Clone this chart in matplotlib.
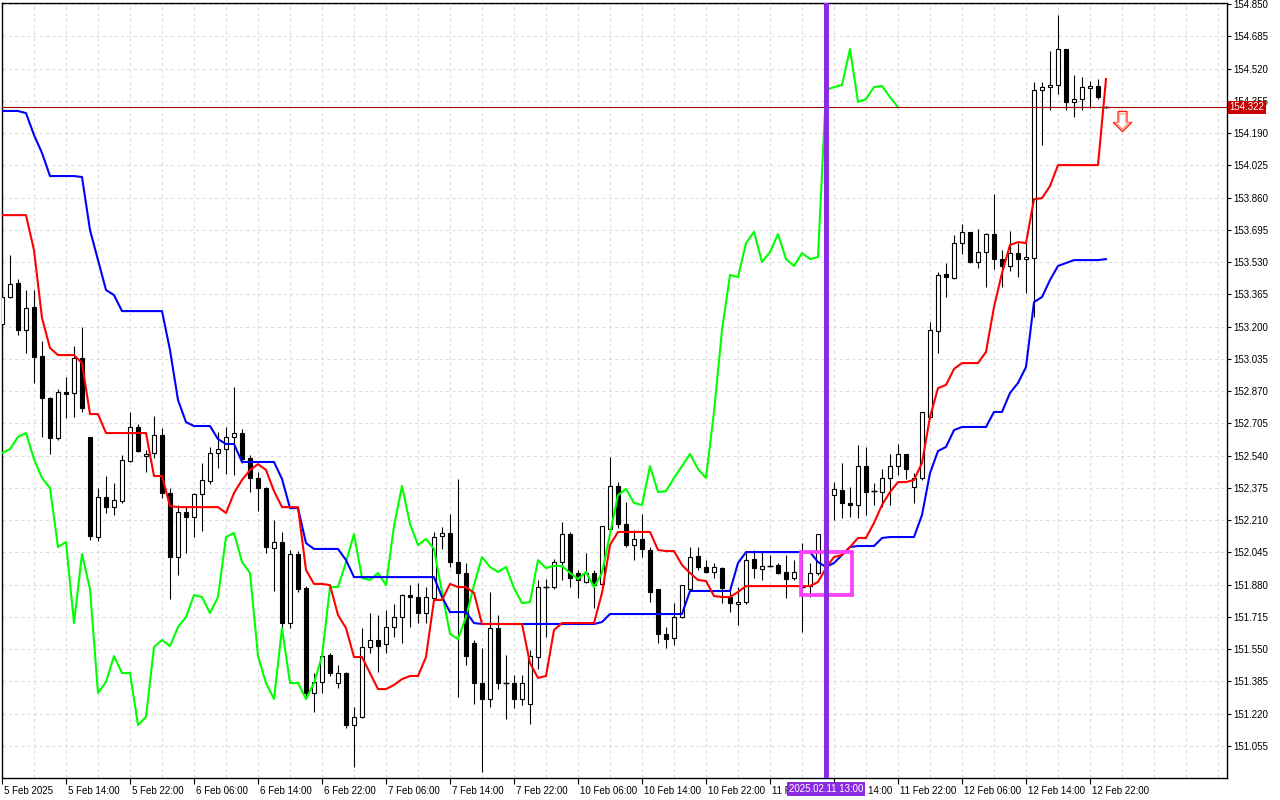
import numpy as np
import matplotlib
matplotlib.use('Agg')
import matplotlib.pyplot as plt
from matplotlib.path import Path
from matplotlib.patches import Rectangle
from matplotlib.transforms import blended_transform_factory, ScaledTranslation

plt.rcParams['font.family'] = ['Liberation Sans', 'DejaVu Sans']

# hourly USDJPY-like bars, 5 Feb 06:00 .. 13 Feb 00:00
opens = [153.213, 153.351, 153.423, 153.182, 153.300, 153.049, 152.834, 152.630, 152.865, 152.860,
         153.039, 152.635, 152.123, 152.328, 152.276, 152.307, 152.512, 152.686, 152.537, 152.553,
         152.645, 152.348, 152.021, 152.251, 152.225, 152.343, 152.410, 152.553, 152.573, 152.635,
         152.655, 152.527, 152.425, 152.374, 152.067, 152.097, 151.683, 152.036, 151.862, 151.325,
         151.381, 151.519, 151.376, 151.427, 151.161, 151.202, 151.560, 151.596, 151.576, 151.662,
         151.714, 151.826, 151.816, 151.734, 151.811, 152.128, 152.144, 151.995, 151.939, 151.581,
         151.376, 151.294, 151.657, 151.376, 151.376, 151.294, 151.269, 151.509, 151.867, 151.867,
         151.995, 152.138, 151.939, 151.893, 151.939, 151.883, 152.164, 152.384, 152.190, 152.082,
         152.113, 152.057, 151.857, 151.627, 151.606, 151.714, 151.857, 152.026, 151.970, 151.944,
         151.964, 151.816, 151.780, 151.790, 152.010, 151.959, 151.975, 151.980, 151.944, 151.913,
         151.867, 151.872, 151.939, 152.123, 152.338, 152.363, 152.297, 152.287, 152.486, 152.358,
         152.353, 152.425, 152.486, 152.548, 152.379, 152.425, 152.737, 153.177, 153.469, 153.448,
         153.627, 153.684, 153.530, 153.581, 153.673, 153.545, 153.510, 153.576, 153.545, 153.550,
         154.410, 154.425, 154.436, 154.620, 154.349, 154.364, 154.420, 154.431, 154.322]
highs = [153.412, 153.566, 153.443, 153.387, 153.387, 153.126, 152.839, 152.880, 152.942, 153.100,
         153.197, 152.635, 152.374, 152.435, 152.399, 152.543, 152.763, 152.701, 152.568, 152.742,
         152.681, 152.374, 152.287, 152.282, 152.348, 152.502, 152.584, 152.660, 152.686, 152.891,
         152.676, 152.543, 152.456, 152.379, 152.210, 152.149, 152.057, 152.051, 151.872, 151.427,
         151.540, 151.530, 151.468, 151.432, 151.253, 151.657, 151.734, 151.724, 151.750, 151.780,
         151.831, 151.877, 151.888, 151.867, 152.149, 152.174, 152.241, 152.420, 151.990, 151.596,
         151.555, 151.842, 151.724, 151.519, 151.417, 151.417, 151.545, 151.903, 151.908, 152.010,
         152.200, 152.149, 151.954, 152.041, 151.954, 152.179, 152.532, 152.404, 152.302, 152.159,
         152.241, 152.072, 151.857, 151.662, 151.785, 151.877, 152.072, 152.072, 152.005, 151.990,
         151.970, 151.867, 151.867, 152.041, 152.057, 152.046, 152.031, 151.990, 152.031, 152.005,
         152.092, 151.990, 152.138, 152.363, 152.404, 152.502, 152.379, 152.594, 152.584, 152.399,
         152.471, 152.548, 152.599, 152.548, 152.450, 152.763, 153.223, 153.479, 153.525, 153.668,
         153.724, 153.684, 153.699, 153.678, 153.878, 153.591, 153.689, 153.627, 153.627, 154.451,
         154.451, 154.610, 154.794, 154.620, 154.487, 154.477, 154.456, 154.466, 154.328]
lows = [153.182, 153.346, 153.157, 153.064, 152.911, 152.635, 152.548, 152.619, 152.732, 152.737,
        152.763, 152.108, 152.103, 152.246, 152.236, 152.297, 152.507, 152.558, 152.456, 152.527,
        152.322, 151.806, 151.929, 152.041, 152.123, 152.154, 152.394, 152.476, 152.445, 152.440,
        152.502, 152.353, 152.256, 152.041, 151.847, 151.657, 151.657, 151.842, 151.299, 151.228,
        151.325, 151.412, 151.350, 151.146, 150.946, 151.197, 151.530, 151.432, 151.530, 151.611,
        151.581, 151.662, 151.683, 151.683, 151.801, 152.062, 151.970, 151.304, 151.468, 151.269,
        150.921, 151.253, 151.345, 151.192, 151.248, 151.263, 151.166, 151.448, 151.611, 151.857,
        151.903, 151.867, 151.811, 151.888, 151.760, 151.872, 152.154, 152.169, 152.072, 152.005,
        152.021, 151.790, 151.581, 151.555, 151.570, 151.709, 151.847, 151.954, 151.939, 151.913,
        151.785, 151.739, 151.673, 151.780, 151.913, 151.903, 151.970, 151.934, 151.811, 151.903,
        151.637, 151.816, 151.929, 152.108, 152.210, 152.220, 152.225, 152.220, 152.236, 152.287,
        152.276, 152.287, 152.440, 152.420, 152.297, 152.415, 152.732, 153.064, 153.351, 153.443,
        153.571, 153.525, 153.499, 153.402, 153.494, 153.402, 153.484, 153.453, 153.371, 153.249,
        154.129, 154.308, 154.390, 154.308, 154.272, 154.308, 154.318, 154.364, 154.318]
closes = [153.351, 153.417, 153.182, 153.295, 153.044, 152.834, 152.630, 152.865, 152.855, 153.039,
          152.783, 152.128, 152.328, 152.276, 152.312, 152.517, 152.686, 152.563, 152.548, 152.645,
          152.348, 152.021, 152.251, 152.225, 152.343, 152.415, 152.553, 152.573, 152.635, 152.655,
          152.522, 152.425, 152.374, 152.072, 152.097, 151.683, 152.036, 151.857, 151.325, 151.381,
          151.514, 151.427, 151.427, 151.161, 151.202, 151.560, 151.596, 151.565, 151.662, 151.714,
          151.826, 151.816, 151.734, 151.816, 152.123, 152.144, 151.995, 151.939, 151.514, 151.376,
          151.294, 151.657, 151.376, 151.376, 151.294, 151.376, 151.514, 151.867, 151.867, 151.995,
          152.138, 151.913, 151.903, 151.939, 151.877, 152.179, 152.384, 152.190, 152.082, 152.113,
          152.062, 151.842, 151.627, 151.601, 151.714, 151.877, 152.021, 151.970, 151.944, 151.970,
          151.862, 151.785, 151.790, 152.005, 151.964, 151.975, 151.975, 151.939, 151.908, 151.944,
          151.867, 151.939, 152.138, 152.338, 152.369, 152.297, 152.287, 152.486, 152.353, 152.358,
          152.425, 152.486, 152.548, 152.471, 152.425, 152.763, 153.182, 153.464, 153.453, 153.627,
          153.684, 153.530, 153.581, 153.673, 153.545, 153.510, 153.576, 153.545, 153.556, 154.410,
          154.425, 154.436, 154.620, 154.349, 154.364, 154.425, 154.431, 154.374, 154.322]

tenkan = [153.770, 153.770, 153.770, 153.770, 153.591, 153.244, 153.090, 153.054, 153.054, 153.054,
          153.013, 152.752, 152.752, 152.655, 152.655, 152.655, 152.655, 152.655, 152.655, 152.435,
          152.435, 152.282, 152.276, 152.276, 152.276, 152.276, 152.276, 152.276, 152.246, 152.348,
          152.415, 152.466, 152.496, 152.466, 152.358, 152.276, 152.276, 152.276, 151.954, 151.883,
          151.883, 151.877, 151.724, 151.657, 151.509, 151.509, 151.427, 151.345, 151.345, 151.366,
          151.396, 151.412, 151.412, 151.509, 151.801, 151.801, 151.883, 151.867, 151.867, 151.837,
          151.678, 151.678, 151.678, 151.678, 151.678, 151.678, 151.478, 151.402, 151.412, 151.647,
          151.683, 151.683, 151.683, 151.683, 151.683, 151.837, 152.082, 152.149, 152.149, 152.149,
          152.149, 152.149, 152.057, 152.051, 152.051, 151.980, 151.939, 151.903, 151.898, 151.821,
          151.816, 151.816, 151.842, 151.872, 151.872, 151.872, 151.872, 151.872, 151.872, 151.872,
          151.872, 151.872, 151.893, 151.964, 152.021, 152.031, 152.072, 152.118, 152.118, 152.195,
          152.287, 152.353, 152.404, 152.404, 152.415, 152.502, 152.737, 152.885, 152.901, 152.983,
          153.013, 153.013, 153.013, 153.070, 153.300, 153.474, 153.617, 153.632, 153.627, 153.852,
          153.857, 153.919, 154.026, 154.026, 154.026, 154.026, 154.026, 154.026, 154.466]
kijun = [154.303, 154.303, 154.303, 154.292, 154.180, 154.088, 153.970, 153.970, 153.970, 153.970,
         153.965, 153.694, 153.540, 153.387, 153.361, 153.279, 153.279, 153.279, 153.279, 153.279,
         153.279, 153.080, 152.824, 152.711, 152.691, 152.691, 152.691, 152.624, 152.599, 152.599,
         152.507, 152.507, 152.507, 152.507, 152.507, 152.420, 152.271, 152.271, 152.092, 152.062,
         152.062, 152.062, 152.062, 152.005, 151.918, 151.918, 151.918, 151.918, 151.918, 151.918,
         151.918, 151.918, 151.918, 151.918, 151.918, 151.816, 151.739, 151.739, 151.739, 151.683,
         151.678, 151.678, 151.678, 151.678, 151.678, 151.678, 151.678, 151.678, 151.678, 151.678,
         151.678, 151.678, 151.678, 151.678, 151.678, 151.688, 151.729, 151.729, 151.729, 151.729,
         151.729, 151.729, 151.729, 151.729, 151.729, 151.729, 151.847, 151.847, 151.847, 151.847,
         151.847, 151.847, 151.990, 152.046, 152.046, 152.046, 152.046, 152.046, 152.046, 152.046,
         152.046, 152.046, 151.995, 151.970, 151.990, 152.031, 152.072, 152.077, 152.077, 152.077,
         152.118, 152.123, 152.123, 152.123, 152.123, 152.236, 152.450, 152.563, 152.584, 152.670,
         152.686, 152.686, 152.686, 152.686, 152.763, 152.763, 152.860, 152.911, 152.993, 153.325,
         153.351, 153.438, 153.510, 153.525, 153.540, 153.540, 153.540, 153.540, 153.545]
chikou_shift = 26

price_ticks = [151.055, 151.220, 151.385, 151.550, 151.715, 151.880, 152.045, 152.210,
               152.375, 152.540, 152.705, 152.870, 153.035, 153.200, 153.365, 153.530,
               153.695, 153.860, 154.025, 154.190, 154.355, 154.520, 154.685, 154.850]
time_labels = ['5 Feb 2025', '5 Feb 14:00', '5 Feb 22:00', '6 Feb 06:00', '6 Feb 14:00',
               '6 Feb 22:00', '7 Feb 06:00', '7 Feb 14:00', '7 Feb 22:00', '10 Feb 06:00',
               '10 Feb 14:00', '10 Feb 22:00', '11 Feb 06:00', '11 Feb 14:00', '11 Feb 22:00',
               '12 Feb 06:00', '12 Feb 14:00', '12 Feb 22:00']
time_label_bars = [0, 8, 16, 24, 32, 40, 48, 56, 64, 72, 80, 88, 96, 104, 112, 120, 128, 136]
marker_bar = 103
marker_text = '2025.02.11 13:00'
bid = 154.322
box_bars = (99.9, 106.25)
box_prices = (151.826, 152.046)
signal_bar = 140
signal_price = 154.251

o = np.array(opens)
h = np.array(highs)
l = np.array(lows)
c = np.array(closes)
bars = np.arange(len(c))

fig = plt.figure(figsize=(12.8, 8), dpi=100)
ax = fig.add_axes([1.6 / 1280, 22 / 800, 1225.2 / 1280, 775.3 / 800])
ax.set_xlim(-0.05, 153.1)
ax.set_ylim(150.890, 154.857)

# grid
ax.set_xticks(time_label_bars)
ax.set_xticklabels(time_labels)
ax.set_xticks(np.arange(0, 153, 4), minor=True)
ax.set_yticks(price_ticks)
ax.set_yticklabels(['%.3f' % p for p in price_ticks])
ax.grid(True, axis='x', which='both', color='#dcdcdc', ls=(0, (3, 3)), lw=0.75)
ax.grid(True, axis='y', which='major', color='#dcdcdc', ls=(0, (3, 3)), lw=0.75)
ax.set_axisbelow(True)

# candles
ax.vlines(bars, l, h, color='black', lw=0.8, zorder=2)
up = c >= o
ax.bar(bars, np.abs(c - o), bottom=np.minimum(o, c), width=0.55,
       color=np.where(up, 'white', 'black'), edgecolor='black', lw=0.8, zorder=3)
doji = c == o
ax.hlines(c[doji], bars[doji] - 0.32, bars[doji] + 0.32, color='black', lw=1.0, zorder=3)

# ichimoku lines
ax.plot(bars[:-chikou_shift], c[chikou_shift:], color='#00ff00', lw=1.5, zorder=4)
ax.plot(bars, kijun, color='#0000ff', lw=1.5, zorder=4)
ax.plot(bars, tenkan, color='#ff0000', lw=1.5, zorder=4)

# bid line
ax.axhline(bid, color='#a00000', lw=0.8, zorder=4)

# highlight box and time marker
ax.add_patch(Rectangle((box_bars[0], box_prices[0]), box_bars[1] - box_bars[0],
                       box_prices[1] - box_prices[0], fill=False, edgecolor='#ff40ff',
                       lw=2.7, zorder=5))
ax.axvline(marker_bar, color='#8a2be2', lw=3.6, zorder=6)

# sell arrow
arrow = Path([(-0.22, 0.5), (0.22, 0.5), (0.22, -0.05), (0.45, -0.05), (0.0, -0.5),
              (-0.45, -0.05), (-0.22, -0.05), (-0.22, 0.5)])
ax.plot([signal_bar], [signal_price], marker=arrow, ms=14.5, mfc='white', mec='#ff2020',
        mew=1.0, ls='none', zorder=6, clip_on=False)
ax.plot([signal_bar], [signal_price], marker=arrow, ms=11, mfc='none', mec='#ffa070',
        mew=0.9, ls='none', zorder=6, clip_on=False)

# axes styling
for s in ax.spines.values():
    s.set_color('black')
    s.set_linewidth(1.0)
ax.yaxis.tick_right()
ax.tick_params(axis='y', which='major', length=3, pad=2, labelsize=7, colors='black')
ax.tick_params(axis='x', which='major', length=4, pad=1.5, labelsize=7, colors='black')
ax.tick_params(axis='x', which='minor', length=0)
shift = ScaledTranslation(2 / 100, 0, fig.dpi_scale_trans)
for lbl in ax.get_xticklabels():
    lbl.set_horizontalalignment('left')
    lbl.set_transform(lbl.get_transform() + shift)

# price and time labels
ty = blended_transform_factory(ax.transAxes, ax.transData)
ax.text(1.0 + 2.5 / 1225.2, bid, '%.3f' % bid, transform=ty, ha='left', va='center',
        fontsize=7, color='white', zorder=10,
        bbox=dict(facecolor='#c80000', edgecolor='none', pad=1.2))
tx = blended_transform_factory(ax.transData, ax.transAxes)
ax.text(marker_bar, -0.0145, marker_text, transform=tx, ha='center', va='center',
        fontsize=7, color='white', zorder=10,
        bbox=dict(facecolor='#8a2be2', edgecolor='none', pad=1.5))

fig.savefig('out.png', dpi=100, facecolor='white')
